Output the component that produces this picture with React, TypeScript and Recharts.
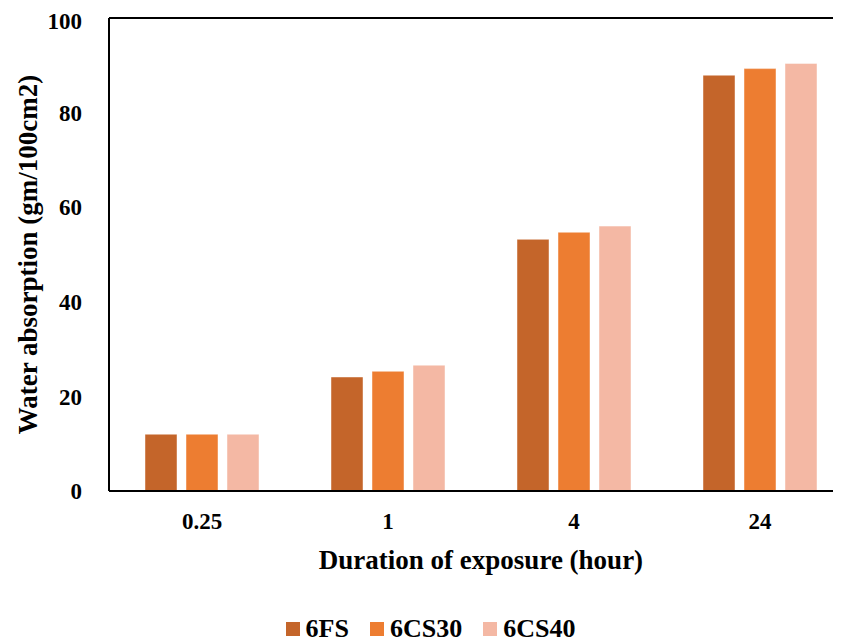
import { BarChart, Bar, XAxis, YAxis, Legend, ReferenceLine } from "recharts";

const durations = ["0.25", "1", "4", "24"];
const fs6 = [12, 24.1, 53.2, 87.9];
const cs30 = [12, 25.3, 54.7, 89.3];
const cs40 = [12, 26.6, 56.0, 90.4];
const yTicks = [0, 20, 40, 60, 80, 100];

const seriesNames = ["6FS", "6CS30", "6CS40"];
const seriesColors = ["#C4652A", "#ED7D31", "#F4B8A4"];

const data = durations.map((d, i) => ({
  duration: d,
  "6FS": fs6[i],
  "6CS30": cs30[i],
  "6CS40": cs40[i],
}));

const FONT = "'Liberation Serif', 'Times New Roman', serif";

const tickStyle = { fill: "#000", fontSize: 23, fontWeight: 700, fontFamily: FONT };
const titleStyle = { ...tickStyle, fontSize: 27 };

function YTitle(props: any) {
  const { viewBox } = props;
  const x = viewBox.x + 20;
  const y = viewBox.y + viewBox.height / 2;
  return (
    <text
      x={x}
      y={y}
      transform={`rotate(-90 ${x} ${y})`}
      textAnchor="middle"
      dominantBaseline="central"
      style={titleStyle}
    >
      Water absorption (gm/100cm2)
    </text>
  );
}

function XTitle(props: any) {
  const { viewBox } = props;
  const x = viewBox.x + viewBox.width / 2;
  return (
    <text x={x} y={viewBox.y + 69} textAnchor="middle" dominantBaseline="central" style={titleStyle}>
      Duration of exposure (hour)
    </text>
  );
}

function LegendBox() {
  return (
    <div style={{ display: "flex", justifyContent: "center", gap: 21, height: 30, alignItems: "center" }}>
      {seriesNames.map((name, i) => (
        <div key={name} style={{ display: "flex", alignItems: "center", gap: 6 }}>
          <span style={{ width: 14, height: 14, background: seriesColors[i], display: "inline-block" }} />
          <span style={{ fontFamily: FONT, fontWeight: 700, fontSize: 26, color: "#000", lineHeight: "30px" }}>
            {name}
          </span>
        </div>
      ))}
    </div>
  );
}

export default function App() {
  return (
    <div style={{ width: 833, height: 636, overflow: "hidden", background: "#fff" }}>
      <BarChart
        width={850}
        height={636}
        data={data}
        margin={{ top: 10, right: 5, bottom: 0, left: 0 }}
        barGap={9}
        barCategoryGap={36}
      >
        <XAxis
          dataKey="duration"
          tickLine={false}
          tickSize={0}
          tickMargin={22}
          axisLine={{ stroke: "#000", strokeWidth: 2 }}
          tick={tickStyle}
          height={123}
          label={<XTitle />}
        />
        <YAxis
          domain={[0, 100]}
          ticks={yTicks}
          tickLine={false}
          tickSize={0}
          tickMargin={27}
          axisLine={{ stroke: "#000", strokeWidth: 2 }}
          tick={tickStyle}
          width={101}
          label={<YTitle />}
        />
        <ReferenceLine y={100} stroke="#000" strokeWidth={2} />
        {seriesNames.map((name, i) => (
          <Bar
            key={name}
            dataKey={name}
            fill={seriesColors[i]}
            stroke="#ffffff"
            strokeOpacity={0.45}
            strokeWidth={1}
            isAnimationActive={false}
          />
        ))}
        <Legend verticalAlign="bottom" content={<LegendBox />} wrapperStyle={{ bottom: 0 }} />
      </BarChart>
    </div>
  );
}
